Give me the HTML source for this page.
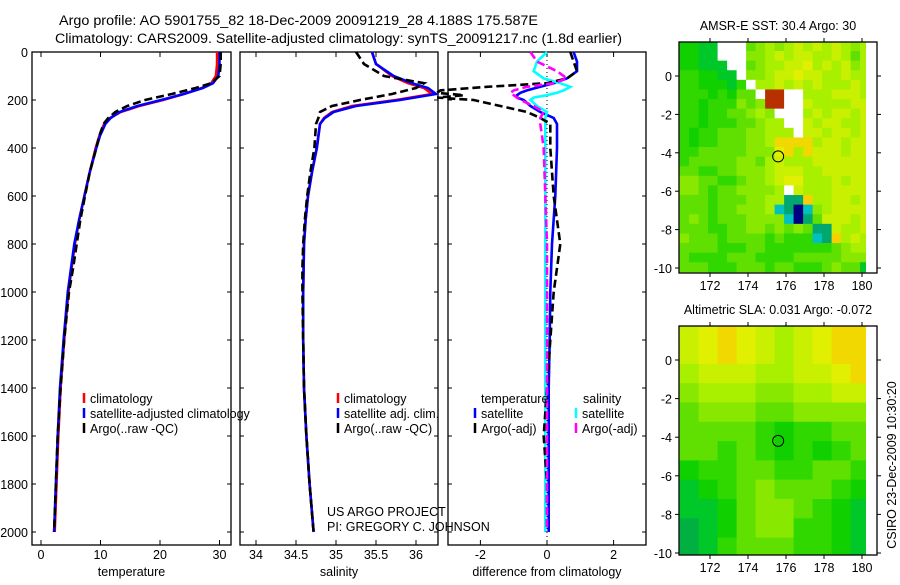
<!DOCTYPE html>
<html><head><meta charset="utf-8"><style>
body{margin:0;background:#fff}
svg text{font-family:"Liberation Sans",sans-serif;fill:#000}
</style></head><body>
<svg id="fig" width="900" height="580" viewBox="0 0 900 580" xmlns="http://www.w3.org/2000/svg">
<text x="59" y="25" font-size="13.5" textLength="479" lengthAdjust="spacingAndGlyphs">Argo profile: AO 5901755_82 18-Dec-2009 20091219_28 4.188S 175.587E</text>
<text x="55" y="43" font-size="13.5" textLength="567" lengthAdjust="spacingAndGlyphs">Climatology: CARS2009. Satellite-adjusted climatology: synTS_20091217.nc (1.8d earlier)</text>
<g id="plots"></g>
</svg>
<script>
// ---------- data ----------
const depthTickLabels=[0,200,400,600,800,1000,1200,1400,1600,1800,2000];
const tempTicks=[0,10,20,30];
const salTicks=[34,34.5,35,35.5,36];
const diffTicks=[-2,0,2];

const climDepth=[0,50,100,130,150,175,200,225,250,275,300,350,400,500,600,700,800,1000,1200,1400,1600,1800,2000];
const climTemp=[29.6,29.6,29.4,28.6,27.0,24.0,20.5,16.5,13.4,11.6,10.6,9.8,9.2,8.2,7.3,6.4,5.7,4.6,3.9,3.3,2.9,2.6,2.3];
const satTemp=[30.0,30.0,29.8,28.9,27.2,24.0,20.2,16.2,13.2,11.7,10.8,9.9,9.3,8.2,7.3,6.4,5.6,4.5,3.8,3.2,2.8,2.5,2.2];
const argoDepth=[0,50,100,130,150,175,200,225,250,275,300,350,400,500,600,700,800,900,1000,1200,1400,1600,1800,2000];
const argoTemp=[30.2,30.2,30.0,28.6,26.0,22.0,17.5,14.5,12.5,11.3,10.5,9.8,9.3,8.2,7.4,6.6,6.0,5.4,4.7,3.9,3.3,2.8,2.5,2.2];

const climSal=[35.45,35.5,35.7,35.9,36.1,36.2,35.75,35.2,34.95,34.85,34.8,34.78,34.76,34.7,34.65,34.62,34.6,34.59,34.59,34.6,34.63,34.67,34.72];
const satSal=[35.45,35.5,35.72,35.95,36.15,36.25,35.8,35.25,34.97,34.86,34.8,34.78,34.76,34.7,34.65,34.62,34.6,34.59,34.59,34.6,34.63,34.67,34.72];
const argoSal=[35.25,35.35,35.6,36.1,36.0,35.7,35.3,34.95,34.8,34.78,34.75,34.74,34.73,34.68,34.64,34.61,34.59,34.58,34.58,34.59,34.6,34.63,34.67,34.72];

const diffDepth=[0,40,80,110,130,145,160,170,180,190,200,225,250,275,300,400,600,800,1000,1200,1400,1600,1800,2000];
const dTempArgo=[0.7,0.8,0.9,0.6,0.0,-1.8,-3.2,-3.3,-2.5,-3.3,-2.2,-1.4,-0.6,-0.2,0.1,0.1,0.2,0.4,0.2,0.1,0.0,-0.1,0.0,0.0];
const dTempSat=[0.8,0.9,0.9,0.6,0.2,-0.2,-0.6,-0.8,-0.9,-0.9,-0.7,-0.5,-0.2,0.2,0.3,0.3,0.25,0.15,0.1,0.08,0.05,0.05,0.05,0.05];
const dSalSat=[0.0,-0.3,-0.4,-0.1,0.4,0.7,0.5,0.3,0.0,-0.4,-0.5,-0.3,0.0,-0.05,-0.05,-0.05,-0.05,-0.05,-0.05,-0.05,-0.05,-0.05,-0.05,-0.05];
const dSalArgo=[-0.5,-0.3,0.3,0.6,0.2,-0.6,-1.0,-1.1,-1.0,-0.9,-0.8,-0.4,-0.1,-0.2,-0.2,-0.1,-0.05,0.0,0.0,0.0,0.0,0.0,0.0,0.0];

// maps (value 0..9 green->yellow; W white, R brown, C cyan, N navy, T teal, Y orange-yellow)
const sstGrid=[
"2211WWW4565676767656","2211WWW5567677667646","22111WW4566778676756","332211W5567787766766",
"3322213W667676766676","33323244WRRWW6667776","332333545RRWW7666677","3323344565WWW6767767",
"33233344566WW7677667","323344455666W7767767","32334445569999677677","33444445558969777677",
"34444455467666777777","44334455567776677777","55443345567886667677","55434455556W76667777",
"44434445566TTY667767","4443445556CTNC567777","45434445555CNT477767","44433445545454TT7667",
"54443444434333CTY676","44443334433333334566","43333444333344444555","44433344434433345441"];
const slaGrid=[
"7898767899","7898767899","6777667789","5666556677","4555445555",
"4444323344","4434323234","2334433443","1234544432","1124554321",
"0124553321","0134443321"];
const mapLonTicks=[172,174,176,178,180];
const mapLatTicks=[0,-2,-4,-6,-8,-10];
const argoLon=175.587, argoLat=-4.188;

// ---------- helpers ----------
const NS="http://www.w3.org/2000/svg";
const root=document.getElementById('plots');
function mk(tag,attrs,parent){const e=document.createElementNS(NS,tag);for(const k in attrs)e.setAttribute(k,attrs[k]);(parent||root).appendChild(e);return e;}
const yD=d=>52+d*0.24;
const PT=52,PB=545;

function panel(name,x0,x1,xs,ticks,label,hasY){
  const g=mk('g',{});
  
  
  mk('rect',{x:x0,y:PT,width:x1-x0,height:PB-PT,fill:'none',stroke:'#000','stroke-width':1.3},g);
  depthTickLabels.forEach(d=>{
    const y=yD(d);
    mk('line',{x1:x0,y1:y,x2:x0+4,y2:y,stroke:'#000'},g);
    mk('line',{x1:x1-4,y1:y,x2:x1,y2:y,stroke:'#000'},g);
    if(hasY){const t=mk('text',{x:x0-4,y:y+5,'font-size':12.5,'text-anchor':'end'},g);t.textContent=d;
      
      }
  });
  ticks.forEach(v=>{
    const x=xs(v);
    mk('line',{x1:x,y1:PT,x2:x,y2:PT+5,stroke:'#000'},g);
    mk('line',{x1:x,y1:PB-5,x2:x,y2:PB,stroke:'#000'},g);
    const t=mk('text',{x:x,y:559,'font-size':12.5,'text-anchor':'middle'},g);t.textContent=v;
    
    
  });
  const l=mk('text',{x:(x0+x1)/2,y:576,'font-size':12.5,'text-anchor':'middle'},g);l.textContent=label;
  
  
  return g;
}
function series(g,name,depths,vals,xs,color,dash){
  const pts=depths.map((d,i)=>xs(vals[i]).toFixed(1)+','+yD(d).toFixed(1)).join(' ');
  const p=mk('polyline',{points:pts,fill:'none',stroke:color,'stroke-width':2.6,'stroke-dasharray':dash||'none'},g);
  
  
}
function legend(g,x,y,color,text,name){
  mk('line',{x1:x,y1:y-10,x2:x,y2:y,stroke:color,'stroke-width':2.5},g);
  const t=mk('text',{x:x+6,y:y,'font-size':12.5},g);t.textContent=text;
  
  
}

// temperature panel
const xT=v=>41+v*5.95;
const g1=panel('temperature-panel',32,231,xT,tempTicks,'temperature',true);
series(g1,'temp-climatology-line',climDepth,climTemp,xT,'#f00');
series(g1,'temp-satellite-line',climDepth,satTemp,xT,'#00f');
series(g1,'temp-argo-line',argoDepth,argoTemp,xT,'#000','8,4');
legend(g1,84,403,'#f00','climatology','legend-climatology');
legend(g1,84,418,'#00f','satellite-adjusted climatology','legend-satellite');
legend(g1,84,433,'#000','Argo(..raw -QC)','legend-argo');

// salinity panel
const xS=v=>256+(v-34)*80;
const g2=panel('salinity-panel',240,438,xS,salTicks,'salinity',false);
series(g2,'sal-climatology-line',climDepth,climSal,xS,'#f00');
series(g2,'sal-satellite-line',climDepth,satSal,xS,'#00f');
series(g2,'sal-argo-line',argoDepth,argoSal,xS,'#000','8,4');
legend(g2,338,403,'#f00','climatology','legend-climatology-sal');
legend(g2,338,418,'#00f','satellite adj. clim.','legend-satellite-sal');
legend(g2,338,433,'#000','Argo(..raw -QC)','legend-argo-sal');
[['US ARGO PROJECT',516],['PI: GREGORY C. JOHNSON',531]].forEach(([s,y])=>{
  const t=mk('text',{x:327,y:y,'font-size':12.5},g2);t.textContent=s;
  
  
});

// difference panel
const xDf=v=>547+v*33.3;
const g3=panel('difference-panel',448,646,xDf,diffTicks,'difference from climatology',false);
mk('line',{x1:547,y1:PT,x2:547,y2:PB,stroke:'#000','stroke-dasharray':'1,3'},g3);
series(g3,'dtemp-satellite-line',diffDepth,dTempSat,xDf,'#00f');
series(g3,'dsal-satellite-line',diffDepth,dSalSat,xDf,'#0ff');
series(g3,'dtemp-argo-line',diffDepth,dTempArgo,xDf,'#000','8,4');
series(g3,'dsal-argo-line',diffDepth,dSalArgo,xDf,'#f0f','8,4');
const th=mk('text',{x:481,y:403,'font-size':12.5},g3);th.textContent='temperature';


const sh=mk('text',{x:583,y:403,'font-size':12.5},g3);sh.textContent='salinity';


legend(g3,475,418,'#00f','satellite','legend-dtemp-satellite');
legend(g3,475,433,'#000','Argo(-adj)','legend-dtemp-argo');
legend(g3,576,418,'#0ff','satellite','legend-dsal-satellite');
legend(g3,576,433,'#f0f','Argo(-adj)','legend-dsal-argo');

// ---------- maps ----------
const pal=['#00b040','#00c828','#10d000','#30d800','#60e000','#88e800','#a8f000','#c8f000','#e0f000','#f0d800'];
const special={W:'#fff',R:'#b83000',C:'#00c0c0',N:'#000080',T:'#00a870',Y:'#f8d000'};
function drawMap(name,grid,top,bottom,title,lat0y,lat10y){
  const g=mk('g',{});
  
  
  const lx=lon=>710+(lon-172)*19;
  const ly=lat=>lat0y-lat*((lat10y-lat0y)/10);
  const clip=mk('clipPath',{id:name+'-clip'},g);
  mk('rect',{x:679,y:top,width:187,height:bottom-top},clip);
  const cg=mk('g',{'clip-path':'url(#'+name+'-clip)'},g);
  const nR=grid.length, nC=grid[0].length, dLon=10/nC, dLat=12/nR;
  grid.forEach((row,r)=>{
    [...row].forEach((c,ci)=>{
      const col=isNaN(c)?special[c]:pal[+c];
      const x0=lx(170.4+ci*dLon),x1=lx(170.4+(ci+1)*dLon),y0=ly(1.8-r*dLat),y1=ly(1.8-(r+1)*dLat);
      const cell=mk('rect',{x:x0,y:y0,width:x1-x0+0.5,height:y1-y0+0.5,fill:col},cg);
      
      
    });
  });
  const c=mk('circle',{cx:lx(argoLon),cy:ly(argoLat),r:5.5,fill:'none',stroke:'#000','stroke-width':1},g);
  
  
  mk('rect',{x:679,y:top,width:198,height:bottom-top,fill:'none',stroke:'#000','stroke-width':1.3},g);
  mapLonTicks.forEach(v=>{const x=lx(v);
    mk('line',{x1:x,y1:top-4,x2:x,y2:top,stroke:'#000'},g);
    mk('line',{x1:x,y1:bottom,x2:x,y2:bottom+4,stroke:'#000'},g);
    const t=mk('text',{x:x,y:bottom+17,'font-size':12.5,'text-anchor':'middle'},g);t.textContent=v;
    
    });
  mapLatTicks.forEach(v=>{const y=ly(v);
    mk('line',{x1:675,y1:y,x2:679,y2:y,stroke:'#000'},g);
    mk('line',{x1:877,y1:y,x2:881,y2:y,stroke:'#000'},g);
    const t=mk('text',{x:672,y:y+5,'font-size':12.5,'text-anchor':'end'},g);t.textContent=v;
    
    });
  const tt=mk('text',{x:778,y:top-12,'font-size':12.5,'text-anchor':'middle'},g);tt.textContent=title;
  
  
}
drawMap('sst-map',sstGrid,42,273,'AMSR-E SST: 30.4 Argo: 30',76,268);
drawMap('sla-map',slaGrid,326,555,'Altimetric SLA: 0.031 Argo: -0.072',360,553);
const cs=mk('text',{x:0,y:0,'font-size':12.5,'text-anchor':'middle',transform:'translate(896,465) rotate(-90)'});
cs.textContent='CSIRO 23-Dec-2009 10:30:20';


</script>
</body></html>
